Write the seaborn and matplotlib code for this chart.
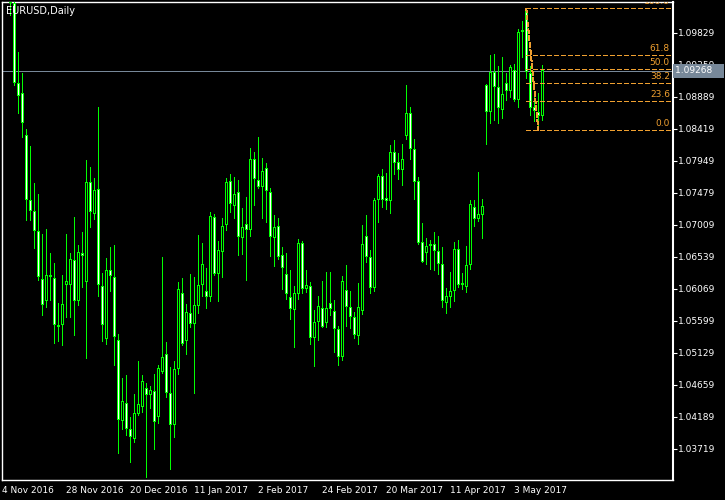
import numpy as np
import pandas as pd
import matplotlib
matplotlib.use("Agg")
import matplotlib.pyplot as plt
import matplotlib.transforms as mtransforms
import seaborn as sns

# EURUSD daily bars, 4 Nov 2016 .. 12 May 2017
opens = [
    1.1100, 1.1130, 1.1040, 1.1026, 1.0909, 1.0894, 1.0833, 1.0737, 1.0721, 1.0692,
    1.0621, 1.0589, 1.0627, 1.0623, 1.0551, 1.0554, 1.0613, 1.0613, 1.0649, 1.0589,
    1.0659, 1.0617, 1.0764, 1.0717, 1.0753, 1.0611, 1.0533, 1.0634, 1.0624, 1.0532,
    1.0412, 1.0439, 1.0401, 1.0386, 1.0423, 1.0433, 1.0461, 1.0451, 1.0456, 1.0419,
    1.0484, 1.0511, 1.0454, 1.0407, 1.0489, 1.0601, 1.0530, 1.0571, 1.0555, 1.0582,
    1.0612, 1.0604, 1.0595, 1.0712, 1.0628, 1.0661, 1.0700, 1.0765, 1.0728, 1.0749,
    1.0681, 1.0702, 1.0693, 1.0797, 1.0767, 1.0756, 1.0784, 1.0749, 1.0681, 1.0699,
    1.0656, 1.0629, 1.0595, 1.0576, 1.0599, 1.0674, 1.0606, 1.0611, 1.0535, 1.0558,
    1.0579, 1.0556, 1.0586, 1.0574, 1.0548, 1.0507, 1.0605, 1.0580, 1.0565, 1.0537,
    1.0574, 1.0684, 1.0654, 1.0608, 1.0737, 1.0773, 1.0740, 1.0736, 1.0808, 1.0793,
    1.0781, 1.0831, 1.0865, 1.0812, 1.0765, 1.0676, 1.0659, 1.0670, 1.0673, 1.0662,
    1.0643, 1.0586, 1.0595, 1.0604, 1.0665, 1.0612, 1.0609, 1.0642, 1.0727, 1.0709,
    1.0715, 1.0906, 1.0867, 1.0925, 1.0903, 1.0870, 1.0909, 1.0897, 1.0928, 1.0884,
    1.0984, 1.1016, 1.0924, 1.0874, 1.0866, 1.0861,
]
highs = [
    1.1143, 1.1140, 1.1073, 1.1300, 1.0955, 1.0924, 1.0842, 1.0817, 1.0762, 1.0746,
    1.0687, 1.0695, 1.0659, 1.0645, 1.0586, 1.0627, 1.0687, 1.0659, 1.0712, 1.0671,
    1.0690, 1.0796, 1.0786, 1.0770, 1.0874, 1.0630, 1.0652, 1.0668, 1.0671, 1.0540,
    1.0476, 1.0480, 1.0418, 1.0452, 1.0501, 1.0480, 1.0469, 1.0464, 1.0481, 1.0495,
    1.0653, 1.0529, 1.0492, 1.0501, 1.0617, 1.0623, 1.0585, 1.0629, 1.0624, 1.0686,
    1.0674, 1.0637, 1.0720, 1.0717, 1.0677, 1.0711, 1.0770, 1.0775, 1.0771, 1.0767,
    1.0726, 1.0742, 1.0814, 1.0808, 1.0830, 1.0799, 1.0792, 1.0755, 1.0715, 1.0711,
    1.0668, 1.0659, 1.0634, 1.0611, 1.0680, 1.0677, 1.0634, 1.0617, 1.0576, 1.0596,
    1.0618, 1.0631, 1.0631, 1.0590, 1.0552, 1.0625, 1.0642, 1.0604, 1.0573, 1.0616,
    1.0701, 1.0715, 1.0664, 1.0740, 1.0775, 1.0783, 1.0777, 1.0818, 1.0825, 1.0806,
    1.0819, 1.0906, 1.0874, 1.0827, 1.0771, 1.0703, 1.0681, 1.0678, 1.0690, 1.0684,
    1.0668, 1.0608, 1.0631, 1.0676, 1.0678, 1.0630, 1.0670, 1.0737, 1.0737, 1.0778,
    1.0739, 1.0908, 1.0950, 1.0952, 1.0934, 1.0947, 1.0924, 1.0936, 1.0937, 1.0988,
    1.1000, 1.1019, 1.0934, 1.0889, 1.0894, 1.0936,
]
lows = [
    1.1080, 1.1035, 1.1009, 1.0906, 1.0865, 1.0830, 1.0708, 1.0708, 1.0667, 1.0620,
    1.0568, 1.0580, 1.0590, 1.0527, 1.0530, 1.0524, 1.0565, 1.0565, 1.0539, 1.0583,
    1.0609, 1.0505, 1.0698, 1.0709, 1.0596, 1.0530, 1.0526, 1.0604, 1.0495, 1.0366,
    1.0401, 1.0392, 1.0352, 1.0382, 1.0421, 1.0426, 1.0330, 1.0432, 1.0372, 1.0410,
    1.0483, 1.0448, 1.0342, 1.0389, 1.0482, 1.0524, 1.0511, 1.0551, 1.0454, 1.0571,
    1.0596, 1.0579, 1.0589, 1.0627, 1.0589, 1.0624, 1.0693, 1.0720, 1.0711, 1.0656,
    1.0658, 1.0620, 1.0684, 1.0730, 1.0755, 1.0711, 1.0705, 1.0655, 1.0640, 1.0651,
    1.0607, 1.0592, 1.0563, 1.0521, 1.0592, 1.0601, 1.0602, 1.0526, 1.0493, 1.0532,
    1.0551, 1.0551, 1.0568, 1.0514, 1.0495, 1.0502, 1.0552, 1.0549, 1.0535, 1.0525,
    1.0570, 1.0646, 1.0601, 1.0603, 1.0705, 1.0727, 1.0724, 1.0718, 1.0775, 1.0768,
    1.0759, 1.0827, 1.0797, 1.0739, 1.0673, 1.0646, 1.0643, 1.0636, 1.0634, 1.0628,
    1.0580, 1.0571, 1.0580, 1.0589, 1.0609, 1.0606, 1.0602, 1.0636, 1.0699, 1.0706,
    1.0681, 1.0820, 1.0850, 1.0855, 1.0850, 1.0858, 1.0884, 1.0889, 1.0883, 1.0874,
    1.0947, 1.0916, 1.0862, 1.0853, 1.0840, 1.0855,
]
closes = [
    1.1138, 1.1040, 1.1026, 1.0909, 1.0890, 1.0850, 1.0737, 1.0721, 1.0692, 1.0624,
    1.0583, 1.0627, 1.0624, 1.0554, 1.0554, 1.0584, 1.0618, 1.0651, 1.0589, 1.0661,
    1.0655, 1.0764, 1.0719, 1.0752, 1.0612, 1.0554, 1.0634, 1.0626, 1.0536, 1.0414,
    1.0442, 1.0401, 1.0389, 1.0424, 1.0438, 1.0471, 1.0451, 1.0458, 1.0411, 1.0490,
    1.0507, 1.0454, 1.0407, 1.0489, 1.0607, 1.0526, 1.0573, 1.0555, 1.0583, 1.0612,
    1.0643, 1.0595, 1.0714, 1.0628, 1.0664, 1.0699, 1.0764, 1.0731, 1.0746, 1.0683,
    1.0698, 1.0693, 1.0797, 1.0768, 1.0756, 1.0780, 1.0750, 1.0683, 1.0698, 1.0654,
    1.0637, 1.0599, 1.0577, 1.0601, 1.0674, 1.0606, 1.0613, 1.0535, 1.0558, 1.0582,
    1.0551, 1.0578, 1.0577, 1.0548, 1.0507, 1.0618, 1.0580, 1.0565, 1.0539, 1.0580,
    1.0673, 1.0654, 1.0608, 1.0737, 1.0773, 1.0737, 1.0736, 1.0808, 1.0792, 1.0781,
    1.0797, 1.0865, 1.0812, 1.0764, 1.0674, 1.0646, 1.0670, 1.0673, 1.0662, 1.0643,
    1.0589, 1.0596, 1.0603, 1.0665, 1.0612, 1.0615, 1.0642, 1.0731, 1.0709, 1.0717,
    1.0728, 1.0867, 1.0925, 1.0903, 1.0872, 1.0893, 1.0897, 1.0933, 1.0884, 1.0984,
    1.0987, 1.0925, 1.0872, 1.0868, 1.0861, 1.0928,
]

date_labels = ["4 Nov 2016", "28 Nov 2016", "20 Dec 2016", "11 Jan 2017", "2 Feb 2017",
               "24 Feb 2017", "20 Mar 2017", "11 Apr 2017", "3 May 2017"]
price_ticks = [1.03719, 1.04189, 1.04659, 1.05129, 1.05599, 1.06069, 1.06539,
               1.07009, 1.07479, 1.07949, 1.08419, 1.08889, 1.09359, 1.09829]
last_price = 1.09268

fib_levels = [0.0, 23.6, 38.2, 50.0, 61.8, 100.0]
fib_high, fib_low = 1.1019, 1.0840
fib_from, fib_to = 131, 134   # bar index of the high and low anchors

df = pd.DataFrame({"open": opens, "high": highs, "low": lows, "close": closes})
df["date"] = pd.bdate_range("2016-11-04", periods=len(df))
df["x"] = np.arange(len(df))
df["bull"] = df["close"] >= df["open"]

# style
sns.set_style("dark", {"axes.facecolor": "black", "figure.facecolor": "black",
                       "axes.edgecolor": "white", "text.color": "white",
                       "xtick.color": "white", "ytick.color": "white"})
plt.rcParams["font.family"] = ["DejaVu Sans"]
plt.rcParams["lines.scale_dashes"] = False

lime = "#00FF00"
fibc = "#F0A030"
greyc = "#778899"

fig = plt.figure(figsize=(7.25, 5), dpi=100)
ax = fig.add_axes([2.3 / 725, 20.5 / 500, 670.4 / 725, 477.2 / 500])
ylo, yhi = 1.032666, 1.102755
px = (yhi - ylo) / 477.2   # price per pixel

# candles: wick, lime outline body, then thin fill inside
ax.vlines(df["x"], df["low"], df["high"], color=lime, lw=0.72, zorder=3,
          antialiased=False)
lo = np.minimum(df["open"], df["close"])
hi = np.maximum(df["open"], df["close"])
ax.bar(df["x"], np.maximum(hi - lo, px), bottom=lo, width=0.8,
       color=lime, linewidth=0, zorder=4, antialiased=False)
inner = hi - lo - 2 * px
ok = inner > 0
ax.bar(df["x"][ok], inner[ok], bottom=lo[ok] + px, width=0.25,
       color=np.where(df["bull"][ok], "black", "white"),
       linewidth=0, zorder=5, antialiased=False)

# current price line
ax.axhline(last_price, color=greyc, lw=0.72, zorder=2, antialiased=False)

# fibonacci
fib_prices = [fib_low + lv / 100 * (fib_high - fib_low) for lv in fib_levels]
ax.hlines(fib_prices, fib_from, 170, colors=fibc, lw=0.72,
          linestyles=(0, (3, 1.6)), zorder=6, antialiased=False)
ax.plot([fib_from, fib_to], [fib_high, fib_low], color=fibc, lw=0.72,
        linestyle=(0, (3, 1.6)), zorder=6, antialiased=False)
for lv, p in zip(fib_levels, fib_prices):
    ax.text(166.9, p + 0.0003, f"{lv:.1f}", color=fibc, fontsize=6.5,
            ha="right", va="bottom", zorder=7, clip_on=True)

# axes
ax.set_xlim(0, 167.6)
ax.set_ylim(ylo, yhi)
for s in ax.spines.values():
    s.set_color("white")
    s.set_linewidth(1)
ax.spines["right"].set_linewidth(1.5)

ax.yaxis.tick_right()
ax.set_yticks(price_ticks)
ax.set_yticklabels([f"{t:.5f}" for t in price_ticks], fontsize=6.5)
ax.tick_params(axis="y", length=3, width=0.8, pad=1, colors="white")

ax.set_xticks(np.arange(0, 16 * len(date_labels), 16))
ax.set_xticklabels(date_labels, fontsize=6.5, ha="left")
ax.tick_params(axis="x", length=4, width=0.8, pad=1, colors="white")
ax.grid(False)

# price label on the scale
trans = mtransforms.blended_transform_factory(ax.transAxes, ax.transData)
ax.text(1.004, last_price, f"{last_price:.5f}   ", transform=trans, fontsize=6.5,
        color="white", va="center", ha="left", clip_on=False, zorder=10,
        bbox=dict(facecolor=greyc, edgecolor="none", pad=1.8))

ax.text(0.006, 0.992, "EURUSD,Daily", transform=ax.transAxes, fontsize=7,
        color="white", ha="left", va="top", zorder=10)

fig.savefig("out.png", dpi=100, facecolor="black")
